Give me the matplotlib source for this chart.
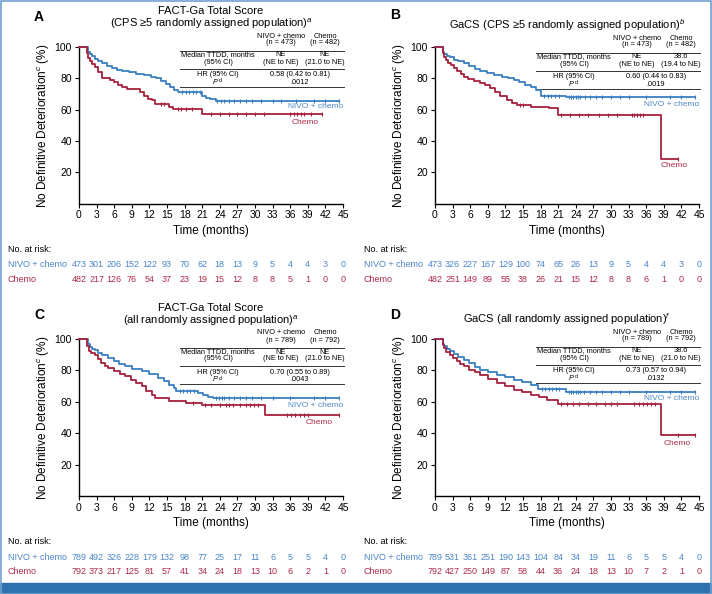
import numpy as np
import matplotlib
matplotlib.use("Agg")
import matplotlib.pyplot as plt
from matplotlib.patches import Rectangle

plt.rcParams['font.family'] = ['Liberation Sans', 'DejaVu Sans']
plt.rcParams['mathtext.fontset'] = 'custom'
plt.rcParams['mathtext.rm'] = 'Liberation Sans'
plt.rcParams['mathtext.it'] = 'Liberation Sans:italic'

BLUE = '#3a7fc1'
RED = '#a6213c'
BLUE_TXT = '#4a86c6'
RED_TXT = '#b02a4a'

months = list(range(0, 46, 3))

# ---- panel A: FACT-Ga, CPS >=5 ----
a_nivo_t = [0, 1.5, 1.8, 2.3, 2.8, 3.3, 4.0, 4.8, 5.6, 6.5, 7.4, 8.5, 9.8, 11.0, 12.2, 13.2, 14.0, 14.8, 15.5, 16.2, 16.9, 21.0, 21.6, 22.4, 23.3, 44.3]
a_nivo_s = [100, 97, 95.5, 94, 92.5, 91, 89.5, 88, 86.5, 85.5, 84.5, 84, 83, 82, 81, 80, 78.5, 76.5, 74.5, 72.5, 71.3, 69, 67.5, 66.5, 65.7, 65.7]
a_chemo_t = [0, 1.4, 1.6, 1.9, 2.3, 2.8, 3.3, 3.9, 5.3, 5.9, 6.6, 7.4, 8.2, 10.4, 11.0, 11.7, 12.5, 13.0, 15.3, 16.0, 21.0, 41.5]
a_chemo_s = [100, 96, 93, 91, 89, 87, 84, 80, 79, 77.5, 76, 74.5, 73, 71, 69, 67, 66, 63.5, 61.5, 60.2, 57.2, 57.2]
a_nivo_cens = [17.6, 18.2, 18.8, 19.4, 20.0, 20.6, 23.6, 24.2, 24.8, 25.5, 26.5, 27.5, 28.5, 29.5, 31, 33, 34.5, 37, 40, 42, 44.3]
a_chemo_cens = [14.0, 14.5, 16.8, 17.4, 18.2, 19.2, 22.5, 24, 25.5, 27, 28.5, 30, 31.5, 36, 36.6, 37.2, 37.8, 38.4, 39.5, 41.5]
a_risk_nivo = [473, 301, 206, 152, 122, 93, 70, 62, 18, 13, 9, 5, 4, 4, 3, 0]
a_risk_chemo = [482, 217, 126, 76, 54, 37, 23, 19, 15, 12, 8, 8, 5, 1, 0, 0]

# ---- panel B: GaCS, CPS >=5 ----
b_nivo_t = [0, 1.3, 1.6, 2.1, 2.6, 3.3, 4.0, 4.9, 5.8, 6.8, 7.7, 8.8, 10.0, 11.5, 12.5, 13.4, 14.4, 15.3, 16.3, 17.2, 18.1, 22.3, 44.4]
b_nivo_s = [100, 97, 95.5, 94.5, 93.5, 92, 90.8, 89.6, 88, 86, 84.5, 83.5, 82.2, 81, 80, 79, 77.5, 76, 74.5, 72.5, 69, 68, 68]
b_chemo_t = [0, 1.3, 1.6, 1.9, 2.3, 2.8, 3.3, 3.8, 4.4, 4.9, 5.7, 6.7, 7.7, 8.6, 9.4, 10.3, 11.1, 12.3, 13.2, 14.0, 16.3, 19.4, 21.0, 38.5, 41.5]
b_chemo_s = [100, 96, 93.5, 91.5, 90, 88.5, 86.5, 84.5, 82.5, 81, 79.5, 78, 76.8, 75.5, 73.6, 71.5, 68.5, 66.1, 64.5, 62.9, 61.9, 60.8, 56.5, 28.2, 28.2]
b_nivo_cens = [18.6, 19.2, 19.8, 20.5, 21.2, 22.8, 23.2, 23.6, 24.0, 24.4, 24.8, 25.5, 26.5, 27.5, 28.5, 30, 31.5, 33, 36, 40, 42, 44.4]
b_chemo_cens = [14.5, 15.0, 21.5, 23, 24.5, 26, 28, 29.5, 31, 33.5, 34, 34.5, 35, 35.5, 41.5]
b_risk_nivo = [473, 326, 227, 167, 129, 100, 74, 65, 26, 13, 9, 5, 4, 4, 3, 0]
b_risk_chemo = [482, 251, 149, 89, 55, 38, 26, 21, 15, 12, 8, 8, 6, 1, 0, 0]

# ---- panel C: FACT-Ga, all randomized ----
c_nivo_t = [0, 1.5, 1.8, 2.2, 2.7, 3.3, 4.0, 5.0, 5.9, 6.8, 7.8, 9.0, 10.7, 12.0, 13.5, 14.5, 15.4, 16.2, 16.6, 20.3, 21.2, 22.0, 22.9, 44.3]
c_nivo_s = [100, 96.5, 95, 93.8, 92.8, 91.2, 89.5, 87.9, 86, 84, 82.6, 81.2, 79.4, 77.5, 75.2, 73, 70.5, 68.5, 66.9, 65.5, 64.3, 63.3, 62.3, 62.3]
c_chemo_t = [0, 1.4, 1.7, 2.0, 2.7, 3.2, 3.8, 4.4, 5.0, 6.0, 7.0, 7.8, 8.8, 9.8, 10.7, 11.5, 12.4, 12.9, 15.3, 18.3, 20.9, 31.7, 44.3]
c_chemo_s = [100, 95.3, 92.2, 91, 90, 87.5, 84.7, 83, 81.5, 79.5, 77.8, 76.2, 74, 72, 69.9, 67, 64.5, 62.2, 60.5, 59.2, 58.2, 51.8, 51.8]
c_nivo_cens = [17.2, 17.8, 18.4, 19.0, 19.6, 23.3, 23.8, 24.3, 24.8, 25.5, 26.5, 27.5, 28.5, 29.5, 31, 33, 36, 40, 42, 44.3]
c_chemo_cens = [19.5, 21.5, 22.5, 24, 25, 25.6, 26.2, 27.5, 28.5, 29.2, 29.8, 30.5, 35.5, 36.2, 36.9, 37.6, 38.3, 39, 44.3]
c_risk_nivo = [789, 492, 326, 228, 179, 132, 98, 77, 25, 17, 11, 6, 5, 5, 4, 0]
c_risk_chemo = [792, 373, 217, 125, 81, 57, 41, 34, 24, 18, 13, 10, 6, 2, 1, 0]

# ---- panel D: GaCS, all randomized ----
d_nivo_t = [0, 1.3, 1.6, 2.1, 2.6, 3.3, 4.0, 4.9, 5.8, 6.8, 7.7, 9.0, 10.5, 12.0, 13.4, 14.8, 16.3, 17.5, 22.3, 44.3]
d_nivo_s = [100, 96.5, 95.3, 93.5, 92.2, 90.5, 88.6, 86.8, 84.5, 82.3, 80.4, 78.8, 77.3, 75.8, 74.1, 72.5, 70.9, 68.2, 66.4, 66.4]
d_chemo_t = [0, 1.3, 1.6, 1.9, 2.6, 3.1, 3.7, 4.3, 4.9, 5.8, 6.8, 7.7, 9.0, 10.5, 12.0, 13.4, 14.8, 16.3, 17.7, 19.1, 20.9, 38.5, 44.3]
d_chemo_s = [100, 96, 94.3, 92, 90, 88, 85.8, 84.2, 82.6, 80.5, 78.8, 77.3, 74.8, 72, 69.8, 67.7, 66, 64.5, 62.8, 61.3, 58.5, 39, 39]
d_nivo_cens = [18.2, 18.8, 19.4, 20.0, 20.6, 21.2, 22.8, 23.2, 23.6, 24.0, 24.4, 24.8, 25.4, 26.4, 27.4, 28.4, 30, 31.5, 33, 36, 40, 42, 44.3]
d_chemo_cens = [21.5, 22.5, 23.5, 24.5, 26, 27.5, 29, 30, 31, 34, 34.7, 35.4, 36.1, 36.8, 37.5, 41.5, 44.3]
d_risk_nivo = [789, 531, 361, 251, 190, 143, 104, 84, 34, 19, 11, 6, 5, 5, 4, 0]
d_risk_chemo = [792, 427, 250, 149, 87, 58, 44, 36, 24, 18, 13, 10, 7, 2, 1, 0]

titles = {
    'A': "FACT-Ga Total Score\n(CPS \u22655 randomly assigned population)$^{a}$",
    'B': "GaCS (CPS \u22655 randomly assigned population)$^{b}$",
    'C': "FACT-Ga Total Score\n(all randomly assigned population)$^{a}$",
    'D': "GaCS (all randomly assigned population)$^{f}$",
}
n_nivo = {'A': 473, 'B': 473, 'C': 789, 'D': 789}
n_chemo = {'A': 482, 'B': 482, 'C': 792, 'D': 792}
med_nivo = {'A': ('NE', '(NE to NE)'), 'B': ('NE', '(NE to NE)'), 'C': ('NE', '(NE to NE)'), 'D': ('NE', '(NE to NE)')}
med_chemo = {'A': ('NE', '(21.0 to NE)'), 'B': ('38.6', '(19.4 to NE)'), 'C': ('NE', '(21.0 to NE)'), 'D': ('38.6', '(21.0 to NE)')}
hr_text = {'A': '0.58 (0.42 to 0.81)', 'B': '0.60 (0.44 to 0.83)', 'C': '0.70 (0.55 to 0.89)', 'D': '0.73 (0.57 to 0.94)'}
p_text = {'A': '.0012', 'B': '.0019', 'C': '.0043', 'D': '.0132'}

W, H = 712, 594
fig = plt.figure(figsize=(W / 100, H / 100), dpi=100)

# frame and bottom band
fig.patches.append(Rectangle((0, 0), 1, 11 / H, transform=fig.transFigure, color='#2f72b0', zorder=0))
fig.patches.append(Rectangle((0.5 / W, 0), 1 - 2 / W, 1 - 0.5 / H, transform=fig.transFigure,
                             fill=False, ec='#6f9fd2', lw=1.2, zorder=0))

# panel geometry in pixels: left, top, bottom, plus table/title shifts
panels = {
    'A': dict(L=79, T=47, B=203.5, tab=0, ttl=-28.5, let=-30),
    'B': dict(L=435, T=47, B=203.5, tab=2, ttl=-22, let=-32),
    'C': dict(L=79, T=339, B=496, tab=5, ttl=-23.5, let=-24),
    'D': dict(L=435, T=339, B=496, tab=4, ttl=-20, let=-24),
}
data = {
    'A': (a_nivo_t, a_nivo_s, a_chemo_t, a_chemo_s, a_nivo_cens, a_chemo_cens, a_risk_nivo, a_risk_chemo),
    'B': (b_nivo_t, b_nivo_s, b_chemo_t, b_chemo_s, b_nivo_cens, b_chemo_cens, b_risk_nivo, b_risk_chemo),
    'C': (c_nivo_t, c_nivo_s, c_chemo_t, c_chemo_s, c_nivo_cens, c_chemo_cens, c_risk_nivo, c_risk_chemo),
    'D': (d_nivo_t, d_nivo_s, d_chemo_t, d_chemo_s, d_nivo_cens, d_chemo_cens, d_risk_nivo, d_risk_chemo),
}
# curve label positions (data coords): nivo right-aligned, chemo centred
label_pos = {
    'A': ((45, 61.7), (38.5, 52)),
    'B': ((45, 63.4), (40.7, 24)),
    'C': ((45, 57.5), (41, 46.7)),
    'D': ((45, 61.8), (41.2, 33.6)),
}


def step_value(t, s, x):
    idx = np.searchsorted(t, x, side='right') - 1
    return np.asarray(s)[idx]


for key, g in panels.items():
    PW = 264
    PH = g['B'] - g['T']
    ax = fig.add_axes([g['L'] / W, 1 - g['B'] / H, PW / W, PH / H])
    nt, ns, ct, cs, ncen, ccen, rn, rc = data[key]

    ax.step(nt, ns, where='post', color=BLUE, lw=1.3, clip_on=False, zorder=3)
    ax.step(ct, cs, where='post', color=RED, lw=1.3, clip_on=False, zorder=3)
    ax.plot(ncen, step_value(nt, ns, ncen), ls='none', marker='|', ms=3.5, mew=0.8, color=BLUE, clip_on=False, zorder=3)
    ax.plot(ccen, step_value(ct, cs, ccen), ls='none', marker='|', ms=3.5, mew=0.8, color=RED, clip_on=False, zorder=3)

    ax.set_xlim(0, 45)
    ax.set_ylim(0, 100)
    ax.set_xticks(months)
    ax.set_yticks([20, 40, 60, 80, 100])
    ax.tick_params(labelsize=7.5, length=3, width=0.8, pad=2)
    for sp in ['top', 'right']:
        ax.spines[sp].set_visible(False)
    for sp in ['left', 'bottom']:
        ax.spines[sp].set_linewidth(1.0)
    ax.set_xlabel('Time (months)', fontsize=8.5, labelpad=3)
    ax.set_ylabel('No Definitive Deterioration$^{c}$ (%)', fontsize=8.5, labelpad=2)

    (nx, ny), (cx, cy) = label_pos[key]
    ax.text(nx, ny, 'NIVO + chemo', color=BLUE_TXT, fontsize=6, ha='right', va='center')
    ax.text(cx, cy, 'Chemo', color=RED_TXT, fontsize=6, ha='center', va='center')

    def ax_xy(dx, dy):
        # dx: px from axes left, dy: px from axes top (down positive)
        return dx / PW, 1 - dy / PH

    # title and panel letter
    ax.text(*ax_xy(132, g['ttl']), titles[key], fontsize=8, ha='center', va='center',
            linespacing=1.15, transform=ax.transAxes)
    ax.text(*ax_xy(-40, g['let']), key, fontsize=10, fontweight='bold', ha='center', va='center',
            transform=ax.transAxes)

    # summary table
    d = g['tab']
    fs = 5.3
    kw = dict(fontsize=fs, ha='center', va='center', transform=ax.transAxes)
    ax.text(*ax_xy(202, -11 + d), 'NIVO + chemo', **kw)
    ax.text(*ax_xy(202, -4 + d), f'(n = {n_nivo[key]})', **kw)
    ax.text(*ax_xy(246, -11 + d), 'Chemo', **kw)
    ax.text(*ax_xy(246, -4 + d), f'(n = {n_chemo[key]})', **kw)
    ax.text(*ax_xy(139, 8 + d), 'Median TTDD, months', **kw)
    ax.text(*ax_xy(139, 15 + d), '(95% CI)', **kw)
    ax.text(*ax_xy(202, 8 + d), med_nivo[key][0], **kw)
    ax.text(*ax_xy(202, 15 + d), med_nivo[key][1], **kw)
    ax.text(*ax_xy(246, 8 + d), med_chemo[key][0], **kw)
    ax.text(*ax_xy(246, 15 + d), med_chemo[key][1], **kw)
    ax.text(*ax_xy(139, 28 + d), 'HR (95% CI)', **kw)
    ax.text(*ax_xy(139, 35.5 + d), 'P', fontsize=fs, style='italic', ha='right', va='center',
            transform=ax.transAxes)
    ax.text(*ax_xy(139.5, 34 + d), 'd', fontsize=3.8, ha='left', va='center', transform=ax.transAxes)
    ax.text(*ax_xy(221, 28 + d), hr_text[key], **kw)
    ax.text(*ax_xy(221, 35.5 + d), p_text[key], **kw)
    for ly in (4, 22, 40):
        x0, y0 = ax_xy(101, ly + d)
        x1, _ = ax_xy(265, ly + d)
        ax.plot([x0, x1], [y0, y0], color='#333333', lw=0.7, transform=ax.transAxes, clip_on=False)

    # numbers at risk
    def below(dy):
        return -dy / PH
    ax.text(-71 / PW, below(45.5), 'No. at risk:', fontsize=6.5, ha='left', va='center', transform=ax.transAxes)
    ax.text(-71 / PW, below(61), 'NIVO + chemo', fontsize=6.5, color=BLUE_TXT, ha='left', va='center', transform=ax.transAxes)
    ax.text(-71 / PW, below(76), 'Chemo', fontsize=6.5, color=RED_TXT, ha='left', va='center', transform=ax.transAxes)
    xt = ax.get_xaxis_transform()
    for m, vn, vc in zip(months, rn, rc):
        ax.text(m, below(61), str(vn), fontsize=6.5, color=BLUE_TXT, ha='center', va='center', transform=xt)
        ax.text(m, below(76), str(vc), fontsize=6.5, color=RED_TXT, ha='center', va='center', transform=xt)

fig.savefig('out.png', dpi=100)
